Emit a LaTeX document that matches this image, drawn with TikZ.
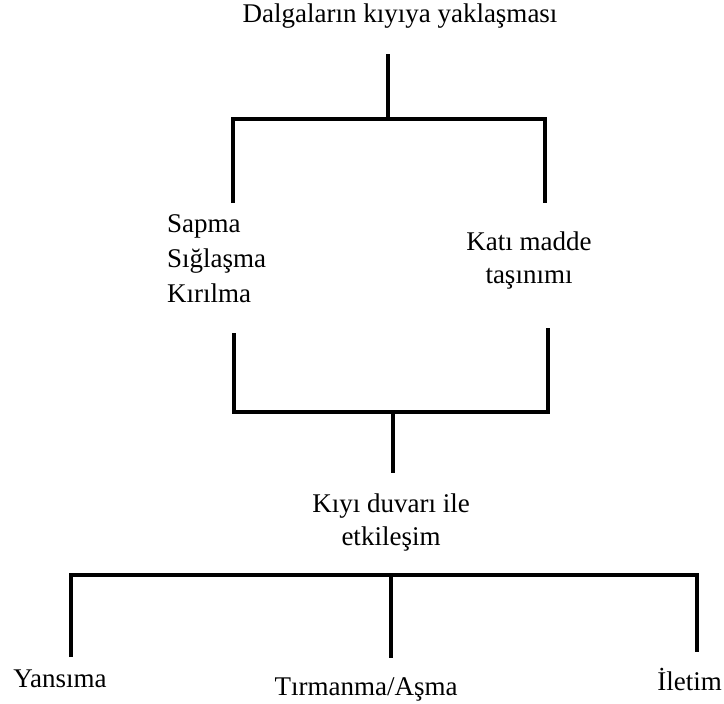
\documentclass[tikz,border=0pt]{standalone}
\usepackage{fontspec}
\setmainfont{Liberation Serif}
\usetikzlibrary{positioning}
\tikzset{bar it/.style={line width=3.5pt},
  heavy bar/.style={line width=4.5pt},
  word it/.style={inner sep=0pt,font=\fontsize{27}{33}\selectfont}}

\begin{document}
\begin{tikzpicture}[x=1pt,y=-1pt]
  \useasboundingbox (0,0) rectangle (724,704);
  \node[word it,anchor=base] (yaklasma) at (400,22) {Dalgaların kıyıya yaklaşması};
  \node[word it,anchor=north west,align=left,font=\fontsize{27}{35}\selectfont] (sapma) at (167,214) {Sapma\\Sığlaşma\\Kırılma};
  \node[word it,anchor=north,align=center] (kati) at (529,232) {Katı madde\\taşınımı};
  \node[word it,anchor=north,align=center] (duvar) at (391,494) {Kıyı duvarı ile\\etkileşim};
  \node[word it,anchor=base] (yansima) at (60,687) {Yansıma};
  \node[word it,anchor=base] (tirmanma) at (366,695) {Tırmanma/Aşma};
  \node[word it,anchor=base east] (iletim) at (722,690) {İletim};

  \coordinate (a0) at (388,54);
  \coordinate (a1) at (388,119);
  \coordinate (aL) at (233,203);
  \coordinate (aR) at (545,203);
  \coordinate (bL) at (234,333);
  \coordinate (bR) at (548,328);
  \coordinate (b1) at (393,412);
  \coordinate (b0) at (393,473);
  \coordinate (c1) at (391,575);
  \coordinate (cL) at (71,657);
  \coordinate (cM) at (391,658);
  \coordinate (cR) at (697,652);

  \draw[heavy bar] (a0) -- (a1);
  \draw[bar it] (aL) |- (a1) -| (aR);
  \draw[bar it] (bL) |- (b1);
  \draw[heavy bar] (bR) |- (b1);
  \draw[bar it] (b1) -- (b0);
  \draw[bar it] (cL) |- (c1) -| (cR);
  \draw[bar it] (c1) -- (cM);
\end{tikzpicture}
\end{document}
